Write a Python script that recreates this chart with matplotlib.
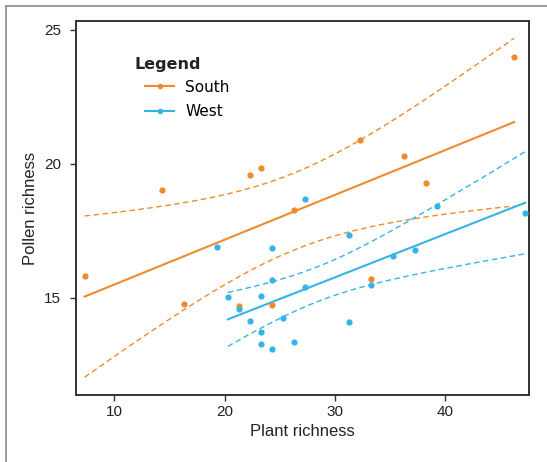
import numpy as np
import matplotlib.pyplot as plt
from matplotlib.lines import Line2D

# South sites
south_x = [7.3, 14.3, 16.3, 21.3, 22.3, 23.3, 24.3, 26.3, 32.3, 36.3, 38.3, 46.3, 33.3]
south_y = [15.82, 19.03, 14.75, 14.68, 19.58, 19.83, 14.72, 18.28, 20.90, 20.28, 19.27, 23.98, 15.70]

# West sites used in the fit
west_x = [20.3, 21.3, 22.3, 23.3, 23.3, 23.3, 24.3, 24.3, 24.3, 25.3, 26.3,
          27.3, 27.3, 31.3, 31.3, 33.3, 35.3, 37.3, 39.3, 47.3]
west_y = [15.01, 14.57, 14.15, 15.05, 13.74, 13.29, 16.87, 15.68, 13.09, 14.25, 13.35,
          18.70, 15.39, 17.34, 14.08, 15.49, 16.57, 16.79, 18.41, 18.16]
# West point shown but outside the fitted range
west_extra_x = [19.3]
west_extra_y = [16.89]

ORANGE = '#F08A2E'
BLUE = '#35B4E6'

# t quantiles (0.975) for the confidence bands
T975 = {11: 2.201, 18: 2.101, 19: 2.093}


def fit_band(x, y, n_pts=100):
    x = np.asarray(x)
    y = np.asarray(y)
    n = len(x)
    b, a = np.polyfit(x, y, 1)
    resid = y - (a + b * x)
    s = np.sqrt(np.sum(resid**2) / (n - 2))
    xs = np.linspace(x.min(), x.max(), n_pts)
    ys = a + b * xs
    se = s * np.sqrt(1 / n + (xs - x.mean())**2 / np.sum((x - x.mean())**2))
    t = T975[n - 2]
    return xs, ys, ys - t * se, ys + t * se


plt.rcParams['font.family'] = ['Liberation Sans', 'DejaVu Sans']

W, H = 547, 462
fig = plt.figure(figsize=(W / 100, H / 100), dpi=100)
ax = fig.add_axes([75.7 / W, 1 - 395 / H, (529.3 - 75.7) / W, (395 - 21) / H])

for xs_, ys_, col in [(south_x, south_y, ORANGE), (west_x, west_y, BLUE)]:
    xs, ys, lo, hi = fit_band(xs_, ys_)
    ax.plot(xs, ys, color=col, lw=1.5, zorder=3)
    ax.plot(xs, lo, color=col, lw=1.0, dashes=(4, 2.5), zorder=3)
    ax.plot(xs, hi, color=col, lw=1.0, dashes=(4, 2.5), zorder=3)

ax.plot(south_x, south_y, 'o', color=ORANGE, ms=4.5, mew=0, zorder=4)
ax.plot(west_x, west_y, 'o', color=BLUE, ms=4.5, mew=0, zorder=5)
ax.plot(west_extra_x, west_extra_y, 'o', color=BLUE, ms=4.5, mew=0, zorder=5)

ax.set_xlim(6.49, 47.67)
ax.set_ylim(11.37, 25.33)
ax.set_xticks([10, 20, 30, 40])
ax.set_yticks([15, 20, 25])
ax.tick_params(labelsize=11, length=4, width=1, color='#333333', labelcolor='#222222')
ax.tick_params(axis='y', pad=6.5)
ax.tick_params(axis='x', pad=3.5)
for sp in ax.spines.values():
    sp.set_color('#333333')
    sp.set_linewidth(1.4)
ax.set_xlabel('Plant richness', fontsize=12, color='#222222', labelpad=3)
ax.set_ylabel('Pollen richness', fontsize=12, color='#222222', labelpad=4.5)

# legend title as plain text, entries indented under it
fig.text(135 / W, 1 - 64 / H, 'Legend', fontsize=11.5, fontweight='bold',
         family='DejaVu Sans', color='#222222', va='center', ha='left')
handles = [Line2D([], [], color=ORANGE, lw=1.5, marker='o', ms=4, mew=0),
           Line2D([], [], color=BLUE, lw=1.5, marker='o', ms=4, mew=0)]
ax.legend(handles, ['South', 'West'], loc='upper left',
          bbox_to_anchor=(145.5 / W, 1 - 79.5 / H), bbox_transform=fig.transFigure,
          frameon=False, handlelength=1.85, handletextpad=0.75, labelspacing=0.65,
          borderpad=0, borderaxespad=0,
          prop={'family': 'DejaVu Sans', 'size': 11})

# outer frame of the original figure panel
fig.add_artist(Line2D([6 / W, 6 / W], [0, 1 - 5.7 / H], transform=fig.transFigure,
                      color='#8a8a8a', lw=1.2))
fig.add_artist(Line2D([6 / W, 1], [1 - 5.7 / H, 1 - 5.7 / H], transform=fig.transFigure,
                      color='#8a8a8a', lw=1.2))

fig.savefig('out.png', dpi=100)
